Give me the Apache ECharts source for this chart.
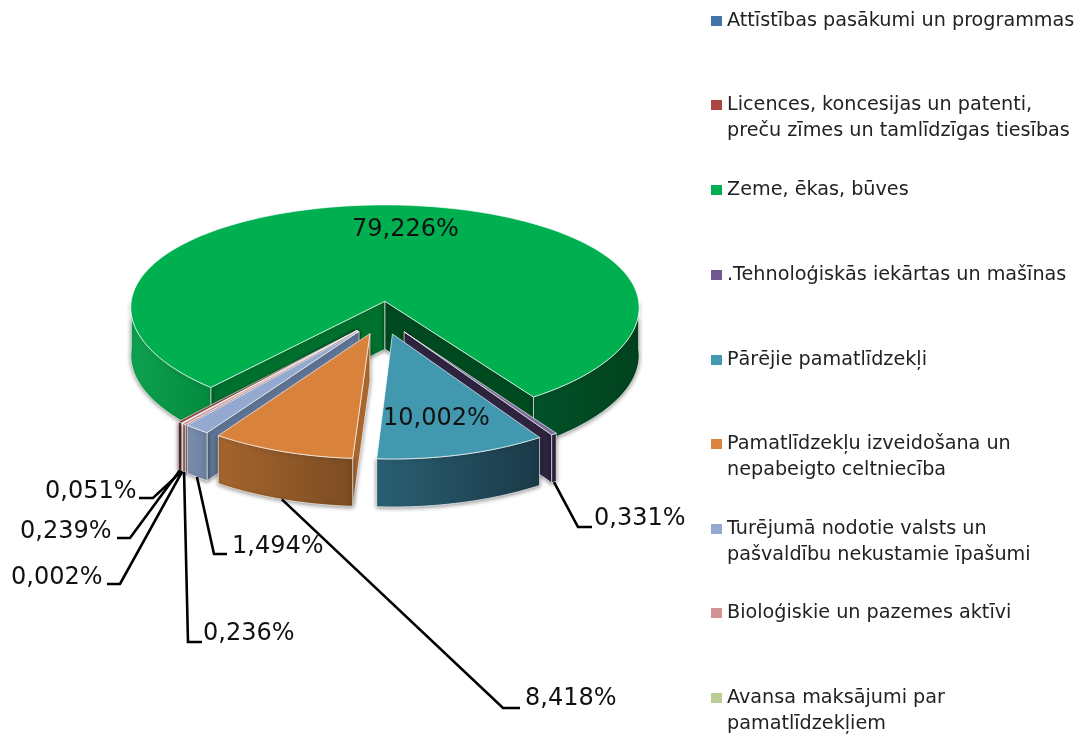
<!DOCTYPE html>
<html>
<head>
<meta charset="utf-8">
<style>html,body{margin:0;padding:0;background:#fff}#c{width:1080px;height:735px}</style>
<script src="https://cdn.jsdelivr.net/npm/echarts@6/dist/echarts.min.js"></script>
</head>
<body>
<div id="c"></div>
<script>
// ---- data ----
const categories = [
  'Attīstības pasākumi un programmas',
  'Licences, koncesijas un patenti,\npreču zīmes un tamlīdzīgas tiesības',
  'Zeme, ēkas, būves',
  '.Tehnoloģiskās iekārtas un mašīnas',
  'Pārējie pamatlīdzekļi',
  'Pamatlīdzekļu izveidošana un\nnepabeigto celtniecība',
  'Turējumā nodotie valsts un\npašvaldību nekustamie īpašumi',
  'Bioloģiskie un pazemes aktīvi',
  'Avansa maksājumi par\npamatlīdzekļiem'
];
const values = [0.051, 0.239, 79.226, 0.331, 10.002, 8.418, 1.494, 0.236, 0.002];
const percentLabels = ['0,051%', '0,239%', '79,226%', '0,331%', '10,002%', '8,418%', '1,494%', '0,236%', '0,002%'];

// ---- colours ----
const legendColors = ['#4573A7', '#AA4644', '#00AF50', '#71588F', '#4298AF', '#DB843D', '#93A9CF', '#D19392', '#B9CD96'];
const topColors    = ['#4573A7', '#AA4644', '#00AF50', '#7B6A9B', '#4298AF', '#D9823C', '#93A9CF', '#D19392', '#B9CD96'];
const wallColors = [
  ['#35598A', '#35598A'], ['#8A3533', '#8A3533'], ['#00702F', '#004A20'], ['#2E2440', '#2E2440'],
  ['#2A6073', '#2A6073'], ['#B06A2E', '#B06A2E'], ['#5F7394', '#5F7394'], ['#A37270', '#A37270'], ['#90A070', '#90A070']
];
// side wall gradient, left colour then right colour
const sideColors = [
  [['#3A6090', '#35598A']], [['#8A3533', '#8A3533']],
  [['#0EA24F', '#048A3E'], ['#02522A', '#01421E']],
  [['#2E2440', '#2E2440']], [['#2A6073', '#1B3A48']], [['#A5652E', '#7C4C22']],
  [['#7E90AE', '#6B7FA2']], [['#A37270', '#A37270']], [['#90A070', '#90A070']]
];
// paint order, back to front
const paintOrder = [2, 3, 4, 1, 0, 8, 7, 6, 5];

// ---- layout ----
const firstSliceAngle = 129.96;
const explode = 0.153, perspectiveX = 0.06, perspectiveY = 0.1;
const originX = 382.5, originY = 317.6, scaleX = 256, scaleY = 109, depth = 48;
const legendMarkerY = [21, 105, 190, 275, 360, 444, 529, 613, 698];
const legendLeft = 711, legendLine = 26;
const labelFont = '24px "DejaVu Sans"';
// [text left, text middle y, leader start x, elbow x, leader y]; no leader = inside the slice
const labelPlace = [
  [45, 492, 139, 153, 498], [20, 532, 117, 130, 538], [352, 230], [594, 519, 592, 578, 527],
  [383, 419], [525, 699, 520, 503, 708], [232, 547, 227, 214, 554], [203, 634, 202, 188, 642], [11, 578, 107, 120, 584]
];

// ---- geometry derived from the values ----
const total = values.reduce((a, b) => a + b, 0);
let running = firstSliceAngle;
const slices = values.map(v => {
  const start = running, end = running + v / total * 360;
  running = end;
  const m = (start + end) / 2 * Math.PI / 180;
  return { start, end, mid: (start + end) / 2, du: explode * Math.cos(m), dv: explode * Math.sin(m) };
});
function project(s, radius, deg) {
  const a = deg * Math.PI / 180;
  const u = s.du + radius * Math.cos(a), v = s.dv + radius * Math.sin(a);
  return [originX + scaleX * u / (1 - perspectiveX * v), originY + scaleY * v / (1 - perspectiveY * v)];
}
function arc(s, a, b) {
  const pts = [], n = Math.max(1, Math.ceil(Math.abs(b - a)));
  for (let i = 0; i <= n; i++) pts.push(project(s, 1, a + (b - a) * i / n));
  return pts;
}
const down = p => [p[0], p[1] + depth];
const edge = { stroke: 'rgba(255,255,255,0.65)', lineWidth: 1 };
const shadow = { shadowBlur: 4, shadowColor: 'rgba(0,0,0,0.45)', shadowOffsetY: 1 };

function frontIntervals(s) {
  const out = [];
  for (let k = 0; k <= 1; k++) {
    const a = Math.max(s.start, 360 * k), b = Math.min(s.end, 360 * k + 180);
    if (b > a) out.push([a, b]);
  }
  return out;
}
function sliceElements(i) {
  const s = slices[i], c = project(s, 0, 0), kids = [];
  const wall = (deg, color) => {
    const e = project(s, 1, deg);
    kids.push({ type: 'polygon', shape: { points: [c, e, down(e), down(c)] },
      style: Object.assign({ fill: color }, edge, shadow) });
  };
  if (Math.cos(s.start * Math.PI / 180) < 0) wall(s.start, wallColors[i][0]);
  if (Math.cos(s.end * Math.PI / 180) > 0) wall(s.end, wallColors[i][1]);
  frontIntervals(s).forEach((r, n) => {
    const top = arc(s, r[0], r[1]);
    const cols = sideColors[i][Math.min(n, sideColors[i].length - 1)];
    kids.push({ type: 'polygon', shape: { points: top.concat(top.map(down).reverse()) },
      style: Object.assign({
        fill: new echarts.graphic.LinearGradient(0, 0, 1, 0,
          [{ offset: 0, color: cols[0] }, { offset: 1, color: cols[1] }])
      }, edge, shadow) });
  });
  kids.push({ type: 'polygon', shape: { points: [c].concat(arc(s, s.start, s.end)) },
    style: Object.assign({ fill: topColors[i] }, edge) });
  return { type: 'group', children: kids };
}
function labelElements(i) {
  const p = labelPlace[i], s = slices[i], kids = [];
  if (p.length > 2) {
    const a = down(project(s, 1, s.mid));
    kids.push({ type: 'polyline', shape: { points: [[p[2], p[4]], [p[3], p[4]], a] },
      style: { fill: 'none', stroke: '#000', lineWidth: 2.6 } });
  }
  kids.push({ type: 'text', style: { text: percentLabels[i], x: p[0], y: p[1], font: labelFont, fill: '#111',
    textAlign: 'left', align: 'left', textVerticalAlign: 'middle', verticalAlign: 'middle' } });
  return { type: 'group', children: kids };
}

const chart = echarts.init(document.getElementById('c'), null, { renderer: 'canvas' });
const series = paintOrder.map(i => ({
  type: 'custom', name: categories[i], coordinateSystem: 'none', silent: true, animation: false,
  itemStyle: { color: legendColors[i] },
  data: [[values[i]]],
  renderItem: () => sliceElements(i)
}));
series.push({
  type: 'custom', name: 'labels', coordinateSystem: 'none', silent: true, animation: false, z: 5,
  data: values.map((v, i) => [i, v]),
  renderItem: (params) => labelElements(params.dataIndex)
});
const legends = categories.map((name, i) => {
  const two = name.indexOf('\n') >= 0;
  return {
    data: [name], left: legendLeft, top: legendMarkerY[i] - (two ? 1.5 : 0.5) * legendLine,
    orient: 'vertical', padding: 0, itemWidth: 11, itemHeight: 10, icon: 'rect', selectedMode: false,
    // a leading empty line keeps the marker level with the first text line
    formatter: n => (n.indexOf('\n') >= 0 ? '\n' + n : n),
    textStyle: { fontFamily: '"DejaVu Sans"', fontSize: 19.2, color: '#222', lineHeight: legendLine }
  };
});
chart.setOption({ animation: false, backgroundColor: '#fff', legend: legends, series });
</script>
</body>
</html>
